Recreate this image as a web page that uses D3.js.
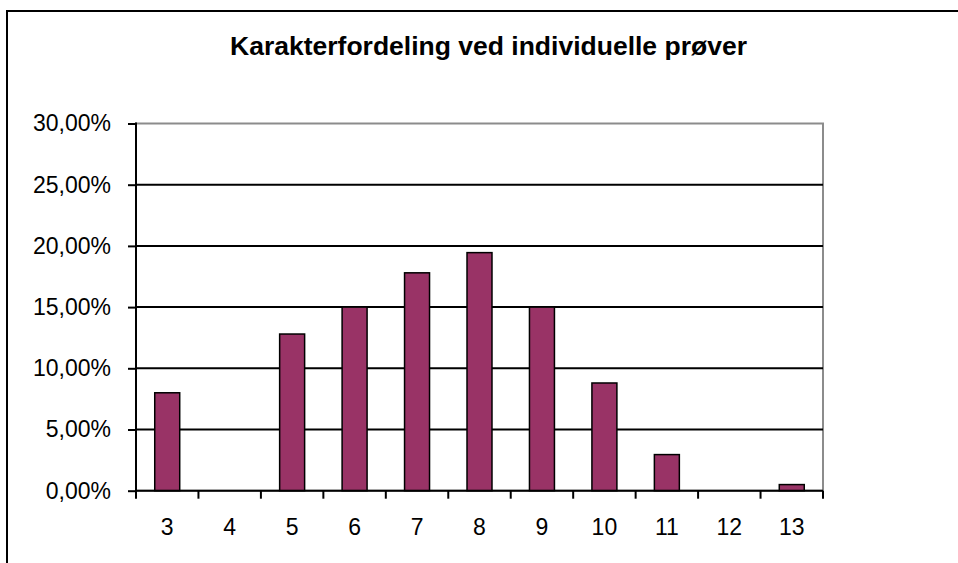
<!DOCTYPE html>
<html>
  <head>
    <meta charset="UTF-8">
    <title>Karakterfordeling</title>
    <style>
      body { margin: 0; background: #fff; }
      svg text { font-family: "Liberation Sans", Arial, sans-serif; fill: #000; }
      .axis path { display: none; }
      .axis line { stroke: #000; stroke-width: 2px; }
      .axis text { font-size: 23px; }
      .title { font-size: 26.5px; font-weight: bold; text-anchor: middle; }
      .bar { fill: #993366; stroke: #000; stroke-width: 1.5px; }
    </style>
    <script src="https://d3js.org/d3.v7.min.js"></script>
  </head>
  <body>
    <script>
      var karakterer = ["3", "4", "5", "6", "7", "8", "9", "10", "11", "12", "13"];
      var andel = [8.0, 0, 12.8, 15.0, 17.8, 19.45, 15.0, 8.8, 2.95, 0, 0.5];
      var yTicks = [0, 5, 10, 15, 20, 25, 30];
      var tittel = "Karakterfordeling ved individuelle prøver";

      var W = 958, H = 563;
      var plotL = 136, plotR = 823, plotT = 123.5, plotB = 490.7;

      var svg = d3.select("body").append("svg")
        .attr("width", W)
        .attr("height", H);

      // outer chart frame (runs off the right/bottom edge)
      svg.append("rect")
        .attr("x", 7).attr("y", 11)
        .attr("width", 1000).attr("height", 600)
        .attr("fill", "#fff")
        .attr("stroke", "#000").attr("stroke-width", 2);

      svg.append("text")
        .attr("class", "title")
        .attr("x", 488.5).attr("y", 55)
        .text(tittel);

      var x = d3.scaleBand()
        .domain(karakterer)
        .range([plotL, plotR])
        .paddingInner(0.6)
        .paddingOuter(0.3);

      var y = d3.scaleLinear()
        .domain([0, 30])
        .range([plotB, plotT]);

      // plot area border (grey top/right)
      svg.append("rect")
        .attr("x", plotL).attr("y", plotT)
        .attr("width", plotR - plotL).attr("height", plotB - plotT)
        .attr("fill", "none")
        .attr("stroke", "#8c8c8c").attr("stroke-width", 2);

      // gridlines
      svg.append("g").selectAll("line")
        .data(yTicks.slice(1, -1))
        .enter().append("line")
          .attr("x1", plotL).attr("x2", plotR)
          .attr("y1", function(d) { return y(d); })
          .attr("y2", function(d) { return y(d); })
          .attr("stroke", "#000").attr("stroke-width", 2);

      // bars
      svg.append("g").selectAll(".bar")
        .data(andel)
        .enter().append("rect")
          .attr("class", "bar")
          .attr("x", function(d, i) { return x(karakterer[i]); })
          .attr("width", x.bandwidth())
          .attr("y", function(d) { return y(d); })
          .attr("height", function(d) { return y(0) - y(d); });

      // y axis
      svg.append("g")
        .attr("class", "y axis")
        .attr("transform", "translate(" + plotL + ",0)")
        .call(d3.axisLeft(y)
          .tickValues(yTicks)
          .tickSize(8)
          .tickPadding(17)
          .tickFormat(function(d) { return d3.format(".2f")(d).replace(".", ",") + "%"; }));

      svg.append("line")
        .attr("x1", plotL).attr("x2", plotL)
        .attr("y1", plotT - 1).attr("y2", plotB + 1)
        .attr("stroke", "#000").attr("stroke-width", 2);

      // x axis: labels at band centres, ticks at band edges
      svg.append("g")
        .attr("class", "x axis")
        .attr("transform", "translate(0," + plotB + ")")
        .call(d3.axisBottom(x).tickSize(0).tickPadding(28));

      var edges = d3.range(karakterer.length + 1).map(function(i) { return plotL + i * x.step(); });
      svg.append("g").selectAll("line")
        .data(edges)
        .enter().append("line")
          .attr("x1", function(d) { return d; }).attr("x2", function(d) { return d; })
          .attr("y1", plotB).attr("y2", plotB + 8)
          .attr("stroke", "#000").attr("stroke-width", 2);

      svg.append("line")
        .attr("x1", plotL).attr("x2", plotR)
        .attr("y1", plotB).attr("y2", plotB)
        .attr("stroke", "#000").attr("stroke-width", 2);
    </script>
  </body>
</html>
